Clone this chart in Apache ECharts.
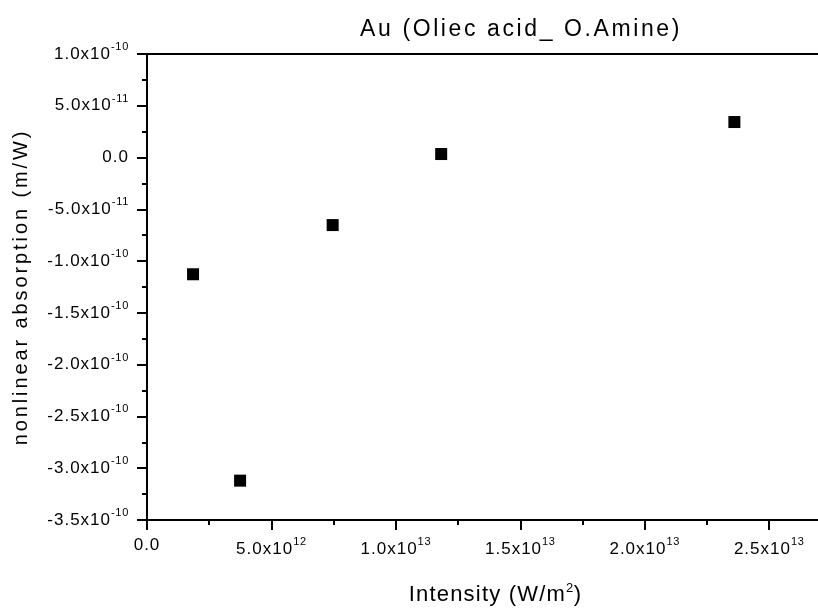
<!DOCTYPE html>
<html><head><meta charset="utf-8">
<script src="https://cdn.jsdelivr.net/npm/echarts@6/dist/echarts.min.js"></script>
<style>html,body{margin:0;padding:0;background:#fff}#c{width:818px;height:609px}</style>
</head><body><div id="c"></div>
<script>
const titleText = 'Au (Oliec acid_ O.Amine)';
const xName = 'Intensity (W/m';
const yName = 'nonlinear absorption (m/W)';
const intensity = [1.85e12, 3.74e12, 7.46e12, 1.182e13, 2.36e13];
const absorption = [-1.127e-10, -3.12e-10, -6.52e-11, 3.4e-12, 3.43e-11];
const xMin = 0, xMax = 2.7e13, xStep = 5e12;
const yMin = -3.5e-10, yMax = 1.0e-10, yStep = 5e-11;

// wider letter spacing like the original export (per font size)
(function () {
  const spacing = {23: 2.6, 22: 1.2, 13: 0.5, 20: 2.9, 17: 1.0, 11: 0.7};
  const P = CanvasRenderingContext2D.prototype;
  const d = Object.getOwnPropertyDescriptor(P, 'font');
  if (!d || !('letterSpacing' in P)) return;
  Object.defineProperty(P, 'font', {
    configurable: true,
    get() { return d.get.call(this); },
    set(v) {
      d.set.call(this, v);
      const m = /(\d+(?:\.\d+)?)px/.exec(v);
      const s = m ? spacing[Math.round(parseFloat(m[1]))] : 0;
      this.letterSpacing = (s || 0) + 'px';
    }
  });
})();

function sci(v) {
  if (Math.abs(v) < 1e-30) return '{b|0.0}';
  let e = Math.floor(Math.log10(Math.abs(v)) + 1e-9);
  let m = v / Math.pow(10, e);
  return '{b|' + m.toFixed(1) + 'x10}{s|' + e + '}';
}
const font = 'Liberation Sans, Arial, sans-serif';
const rich = {
  b: {fontSize: 17, fontFamily: font, color: '#000'},
  s: {fontSize: 11, fontFamily: font, color: '#000', padding: [0, 0, 14, 0]}
};
const chart = echarts.init(document.getElementById('c'), null, {renderer: 'canvas'});
chart.setOption({
  backgroundColor: '#fff',
  animation: false,
  title: {
    text: titleText, left: 516, top: 12, textAlign: 'center',
    textStyle: {fontFamily: font, fontSize: 23, fontWeight: 'normal', color: '#000'}
  },
  grid: {left: 147, right: -1, top: 54, bottom: 89, containLabel: false, outerBoundsMode: 'none'},
  xAxis: [{
    type: 'value', min: xMin, max: xMax, interval: xStep,
    name: '{a|' + xName + '}{s|2}{a|)}', nameLocation: 'middle', nameGap: 62,
    nameTextStyle: {padding: [0, 0, 0, 25], rich: {
      a: {fontSize: 22, fontFamily: font, color: '#000'},
      s: {fontSize: 13, fontFamily: font, color: '#000', padding: [0, 0, 12, 0]}
    }},
    axisLine: {onZero: false, lineStyle: {color: '#000', width: 2}},
    axisTick: {length: 10, lineStyle: {color: '#000', width: 2}},
    minorTick: {show: true, splitNumber: 2, length: 5, lineStyle: {color: '#000', width: 2}},
    splitLine: {show: false},
    axisLabel: {margin: 16, formatter: sci, rich: rich, showMaxLabel: false}
  }, {
    type: 'value', position: 'top', min: xMin, max: xMax, interval: xStep,
    axisLine: {onZero: false, lineStyle: {color: '#000', width: 2}},
    axisTick: {show: false}, axisLabel: {show: false}, splitLine: {show: false}
  }],
  yAxis: [{
    type: 'value', min: yMin, max: yMax, interval: yStep,
    name: yName, nameLocation: 'middle', nameGap: 114, nameRotate: 90,
    nameTextStyle: {fontSize: 20, fontFamily: font, color: '#000'},
    axisLine: {onZero: false, lineStyle: {color: '#000', width: 2}},
    axisTick: {length: 10, lineStyle: {color: '#000', width: 2}},
    minorTick: {show: true, splitNumber: 2, length: 5, lineStyle: {color: '#000', width: 2}},
    splitLine: {show: false},
    axisLabel: {margin: 18, formatter: sci, rich: rich}
  }],
  series: [{
    type: 'scatter', xAxisIndex: 0, yAxisIndex: 0,
    symbol: 'rect', symbolSize: 12,
    itemStyle: {color: '#000', opacity: 1},
    data: intensity.map((x, i) => [x, absorption[i]])
  }]
});
</script></body></html>
